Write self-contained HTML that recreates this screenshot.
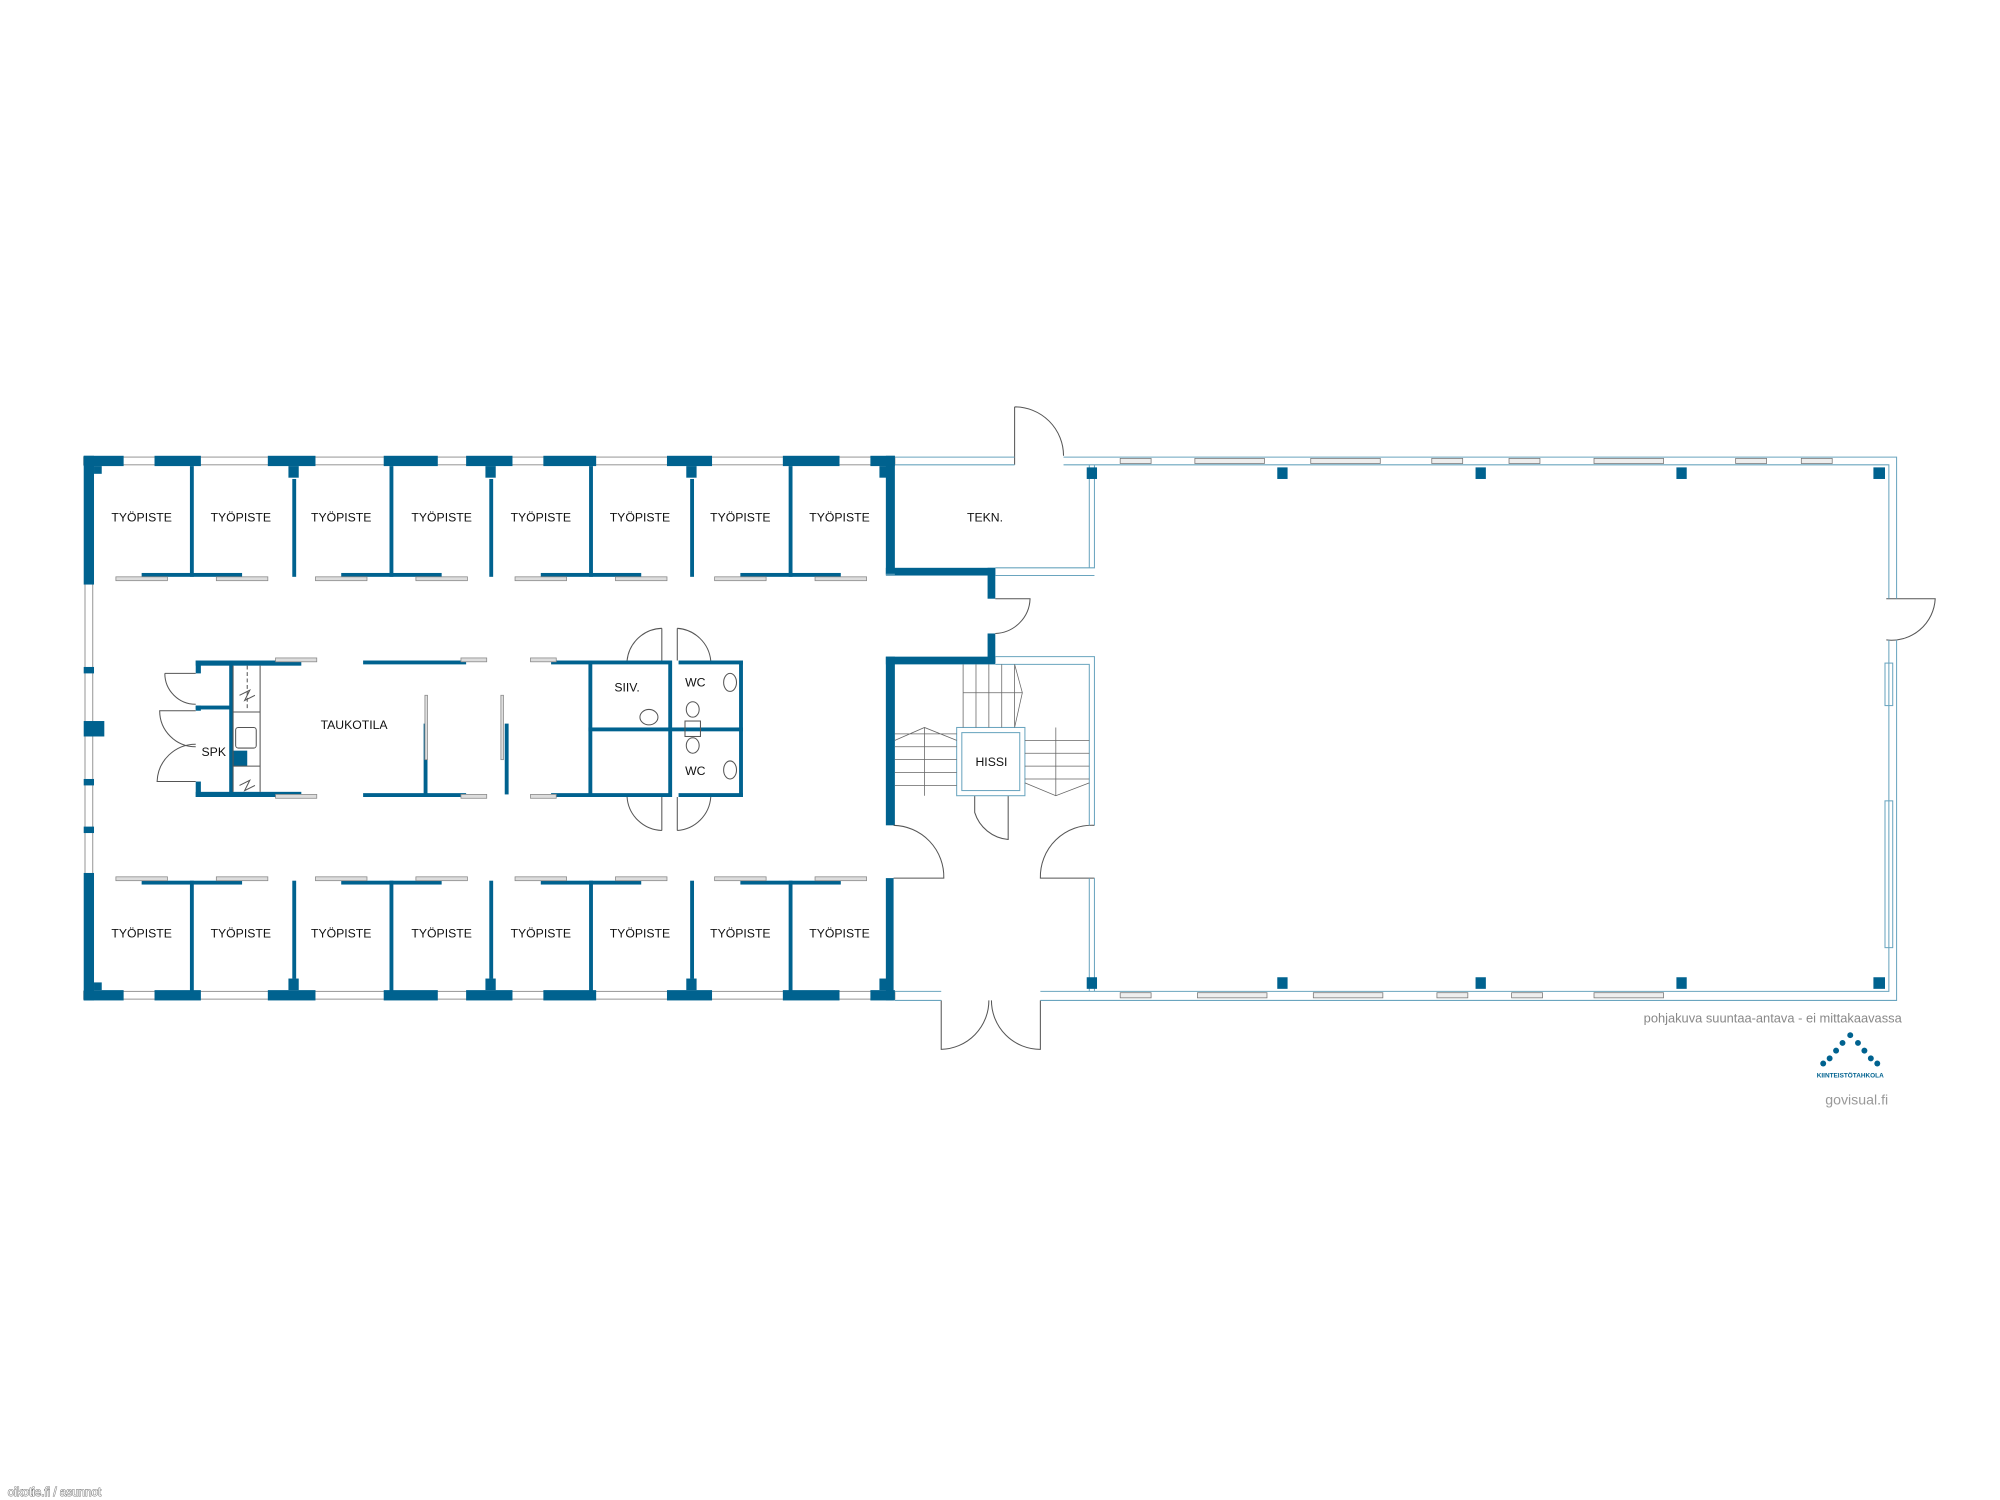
<!DOCTYPE html>
<html><head><meta charset="utf-8"><style>
html,body{margin:0;padding:0;background:#fff;}
svg{display:block;}
text{font-family:"Liberation Sans",sans-serif;fill:#111;}
</style></head><body>
<svg width="2000" height="1500" viewBox="0 0 1553.3 1165" xmlns="http://www.w3.org/2000/svg">
<rect width="1553.3" height="1165" fill="#fff"/>
<g fill="#fff" stroke="#999" stroke-width="0.8">
<rect x="65" y="355" width="630" height="6"/>
<rect x="65" y="770" width="630" height="6"/>
<rect x="66" y="361" width="6" height="410"/>
</g>
<g fill="#00628f">
<rect x="65" y="354" width="31" height="8"/><rect x="120" y="354" width="36" height="8"/><rect x="208" y="354" width="37" height="8"/>
<rect x="298" y="354" width="42" height="8"/><rect x="362" y="354" width="36" height="8"/><rect x="422" y="354" width="41" height="8"/>
<rect x="518" y="354" width="35" height="8"/><rect x="608" y="354" width="44" height="8"/><rect x="676" y="354" width="19" height="8"/>
<rect x="65" y="769" width="31" height="8"/><rect x="120" y="769" width="36" height="8"/><rect x="208" y="769" width="37" height="8"/>
<rect x="298" y="769" width="42" height="8"/><rect x="362" y="769" width="36" height="8"/><rect x="422" y="769" width="41" height="8"/>
<rect x="518" y="769" width="35" height="8"/><rect x="608" y="769" width="44" height="8"/><rect x="676" y="769" width="19" height="8"/>
<rect x="65" y="354" width="8" height="100"/><rect x="65" y="678" width="8" height="99"/>
<rect x="65" y="518" width="8" height="5"/><rect x="65" y="560" width="16" height="12"/><rect x="65" y="605" width="8" height="5"/><rect x="65" y="642" width="8" height="5"/>
<rect x="73" y="362" width="6" height="6"/><rect x="73" y="763" width="6" height="6"/>
<rect x="224" y="362" width="8" height="9"/><rect x="377" y="362" width="8" height="9"/><rect x="533" y="362" width="8" height="9"/><rect x="683" y="362" width="6" height="9"/>
<rect x="224" y="760" width="8" height="9"/><rect x="377" y="760" width="8" height="9"/><rect x="533" y="760" width="8" height="9"/><rect x="683" y="760" width="6" height="9"/>
<rect x="147.5" y="362" width="3" height="86"/><rect x="227" y="372" width="3" height="76"/><rect x="302.5" y="362" width="3" height="86"/>
<rect x="380" y="372" width="3" height="76"/><rect x="457.5" y="362" width="3" height="86"/><rect x="536" y="372" width="3" height="76"/><rect x="612.5" y="362" width="3" height="86"/>
<rect x="110" y="445" width="78" height="3"/><rect x="265" y="445" width="78" height="3"/><rect x="420" y="445" width="78" height="3"/><rect x="575" y="445" width="78" height="3"/>
<rect x="147.5" y="684" width="3" height="86"/><rect x="227" y="684" width="3" height="76"/><rect x="302.5" y="684" width="3" height="86"/>
<rect x="380" y="684" width="3" height="76"/><rect x="457.5" y="684" width="3" height="86"/><rect x="536" y="684" width="3" height="76"/><rect x="612.5" y="684" width="3" height="86"/>
<rect x="110" y="684" width="78" height="3"/><rect x="265" y="684" width="78" height="3"/><rect x="420" y="684" width="78" height="3"/><rect x="575" y="684" width="78" height="3"/>
<rect x="688" y="354" width="7" height="92"/><rect x="688" y="441" width="85" height="6"/><rect x="767" y="441" width="6" height="24"/>
<rect x="767" y="492" width="6" height="23"/><rect x="688" y="510" width="85" height="6"/><rect x="688" y="510" width="7" height="131"/>
<rect x="688" y="682" width="6" height="95"/>
<rect x="152" y="513" width="82" height="4"/><rect x="152" y="513" width="4" height="10"/><rect x="152" y="548" width="4" height="4"/><rect x="152" y="548" width="28" height="3"/>
<rect x="152" y="607" width="4" height="12"/><rect x="152" y="615" width="82" height="4"/><rect x="178" y="513" width="3" height="106"/>
<rect x="180" y="583" width="12" height="12"/>
<rect x="282" y="513" width="80" height="3"/><rect x="282" y="616" width="80" height="3"/><rect x="329" y="562" width="3" height="55"/><rect x="392" y="562" width="3" height="55"/>
<rect x="428" y="513" width="92" height="3"/><rect x="428" y="616" width="92" height="3"/><rect x="457" y="513" width="3" height="106"/>
<rect x="457" y="565" width="120" height="3"/><rect x="519" y="513" width="3" height="106"/><rect x="574" y="513" width="3" height="106"/>
<rect x="527" y="513" width="50" height="3"/><rect x="527" y="616" width="50" height="3"/>
</g>
<g fill="#ddd" stroke="#888" stroke-width="0.6">
<rect x="90" y="448" width="40" height="3"/><rect x="168" y="448" width="40" height="3"/><rect x="245" y="448" width="40" height="3"/><rect x="323" y="448" width="40" height="3"/>
<rect x="400" y="448" width="40" height="3"/><rect x="478" y="448" width="40" height="3"/><rect x="555" y="448" width="40" height="3"/><rect x="633" y="448" width="40" height="3"/>
<rect x="90" y="681" width="40" height="3"/><rect x="168" y="681" width="40" height="3"/><rect x="245" y="681" width="40" height="3"/><rect x="323" y="681" width="40" height="3"/>
<rect x="400" y="681" width="40" height="3"/><rect x="478" y="681" width="40" height="3"/><rect x="555" y="681" width="40" height="3"/><rect x="633" y="681" width="40" height="3"/>
<rect x="214" y="511" width="32" height="3"/><rect x="214" y="617" width="32" height="3"/><rect x="358" y="511" width="20" height="3"/><rect x="358" y="617" width="20" height="3"/>
<rect x="412" y="511" width="20" height="3"/><rect x="412" y="617" width="20" height="3"/>
<rect x="330" y="540" width="2" height="50"/><rect x="389" y="540" width="2" height="50"/>
</g>
<g fill="none" stroke="#555" stroke-width="0.8">
<path d="M152 523 L128 523 M128 523 A24 24 0 0 0 152 547"/>
<path d="M152 552 L124 552 A28 28 0 0 0 152 580 M152 607 L122 607 A30 30 0 0 1 152 578"/>
<path d="M514 488 L514 513 M514 488 A28 28 0 0 0 487 513 M526 488 L526 513 M526 488 A28 28 0 0 1 552 513"/>
<path d="M514 645 L514 619 M514 645 A28 28 0 0 1 487 619 M526 645 L526 619 M526 645 A28 28 0 0 0 552 619"/>
<path d="M181 517 L181 615 M202 517 L202 615 M181 553 L202 553 M181 595 L202 595"/>
<path d="M192 517 L192 550" stroke-dasharray="3,2"/>
<rect x="183" y="565" width="16" height="16" rx="2"/>
<path d="M186 540 l8 -4 -4 8 8 -4 M186 610 l8 -4 -4 8 8 -4"/>
<ellipse cx="567" cy="530" rx="5" ry="7"/><ellipse cx="567" cy="598" rx="5" ry="7"/>
<ellipse cx="538" cy="551" rx="5" ry="6"/><ellipse cx="538" cy="579" rx="5" ry="6"/><rect x="532" y="560" width="12" height="12"/>
<ellipse cx="504" cy="557" rx="7" ry="6"/>
<path d="M788 316 L788 361 M788 316 A38 38 0 0 1 826 354"/>
<path d="M773 465 L800 465 A28 28 0 0 1 773 492"/>
<path d="M694 641 A40 40 0 0 1 733 682 L694 682"/>
<path d="M850 641 A40 40 0 0 0 808 682 L850 682"/>
<path d="M731 777 L731 815 A38 38 0 0 0 768 777 M808 777 L808 815 A38 38 0 0 1 770 777"/>
<path d="M757 618 L757 631 A30 30 0 0 0 783 652 L783 618"/>
<path d="M1465 465 L1503 465 A34 34 0 0 1 1465 497"/>
</g>
<g fill="none" stroke="#6aa5bf" stroke-width="0.8">
<path d="M695 355 L788 355 M695 361 L788 361 M826 355 L1473 355 L1473 465 M826 361 L1467 361 L1467 465"/>
<path d="M695 770 L731 770 M695 777 L731 777 M808 770 L1467 770 L1467 497 M808 777 L1473 777 L1473 497"/>
<path d="M773 441 L850 441 L850 361 M773 447 L850 447 M846 441 L846 361 M695 446 L688 446"/>
<path d="M773 510 L850 510 L850 641 M773 516 L846 516 L846 641 M850 682 L850 770 M846 682 L846 770"/>
<rect x="743" y="565" width="53" height="53"/><rect x="747" y="569" width="45" height="45"/>
<rect x="1464" y="515" width="6" height="33"/><rect x="1464" y="622" width="6" height="114"/>
</g>
<g fill="none" stroke="#666" stroke-width="0.6">
<path d="M748 516 L748 565 M758 516 L758 565 M768 516 L768 565 M778 516 L778 565 M788 516 L788 565 M748 538 L794 538 L788 516 M788 565 L794 538"/>
<path d="M695 570 L743 570 M695 580 L743 580 M695 590 L743 590 M695 600 L743 600 M695 610 L743 610 M718 565 L718 618 M695 575 L718 565 L743 575"/>
<path d="M796 575 L846 575 M796 585 L846 585 M796 595 L846 595 M796 605 L846 605 M820 565 L820 618 M796 608 L820 618 L846 608"/>
</g>
<g fill="#eee" stroke="#777" stroke-width="0.6">
<rect x="870" y="356" width="24" height="4"/><rect x="928" y="356" width="54" height="4"/><rect x="1018" y="356" width="54" height="4"/><rect x="1112" y="356" width="24" height="4"/>
<rect x="1172" y="356" width="24" height="4"/><rect x="1238" y="356" width="54" height="4"/><rect x="1348" y="356" width="24" height="4"/><rect x="1399" y="356" width="24" height="4"/>
<rect x="870" y="771" width="24" height="4"/><rect x="930" y="771" width="54" height="4"/><rect x="1020" y="771" width="54" height="4"/><rect x="1116" y="771" width="24" height="4"/>
<rect x="1174" y="771" width="24" height="4"/><rect x="1238" y="771" width="54" height="4"/>
</g>
<g fill="#00628f">
<rect x="844" y="363" width="8" height="9"/><rect x="992" y="363" width="8" height="9"/><rect x="1146" y="363" width="8" height="9"/><rect x="1302" y="363" width="8" height="9"/><rect x="1455" y="363" width="9" height="9"/>
<rect x="844" y="759" width="8" height="9"/><rect x="992" y="759" width="8" height="9"/><rect x="1146" y="759" width="8" height="9"/><rect x="1302" y="759" width="8" height="9"/><rect x="1455" y="759" width="9" height="9"/>
</g>
<g font-size="9.5" text-anchor="middle">
<text x="110" y="405">TYÖPISTE</text><text x="187" y="405">TYÖPISTE</text><text x="265" y="405">TYÖPISTE</text><text x="343" y="405">TYÖPISTE</text>
<text x="420" y="405">TYÖPISTE</text><text x="497" y="405">TYÖPISTE</text><text x="575" y="405">TYÖPISTE</text><text x="652" y="405">TYÖPISTE</text>
<text x="110" y="728">TYÖPISTE</text><text x="187" y="728">TYÖPISTE</text><text x="265" y="728">TYÖPISTE</text><text x="343" y="728">TYÖPISTE</text>
<text x="420" y="728">TYÖPISTE</text><text x="497" y="728">TYÖPISTE</text><text x="575" y="728">TYÖPISTE</text><text x="652" y="728">TYÖPISTE</text>
<text x="765" y="405">TEKN.</text><text x="275" y="566">TAUKOTILA</text><text x="166" y="587">SPK</text><text x="487" y="537">SIIV.</text>
<text x="540" y="533">WC</text><text x="540" y="602">WC</text><text x="770" y="595">HISSI</text>
</g>
<text x="1477" y="794" font-size="10" text-anchor="end" style="fill:#888">pohjakuva suuntaa-antava - ei mittakaavassa</text>
<g fill="#00628f">
<circle cx="1437" cy="804" r="2.3"/><circle cx="1431" cy="810" r="2.3"/><circle cx="1443" cy="810" r="2.3"/>
<circle cx="1426" cy="816" r="2.3"/><circle cx="1448" cy="816" r="2.3"/><circle cx="1421" cy="822" r="2.3"/><circle cx="1453" cy="822" r="2.3"/>
<circle cx="1416" cy="826" r="2.3"/><circle cx="1458" cy="826" r="2.3"/>
</g>
<text x="1437" y="837" font-size="5" font-weight="bold" text-anchor="middle" style="fill:#00628f">KIINTEISTÖTAHKOLA</text>
<text x="1442" y="858" font-size="11" text-anchor="middle" style="fill:#999">govisual.fi</text>
<text x="6" y="1162" font-size="9" style="fill:#fff;stroke:#777;stroke-width:0.8;paint-order:stroke">oikotie.fi / asunnot</text>
</svg>
</body></html>
